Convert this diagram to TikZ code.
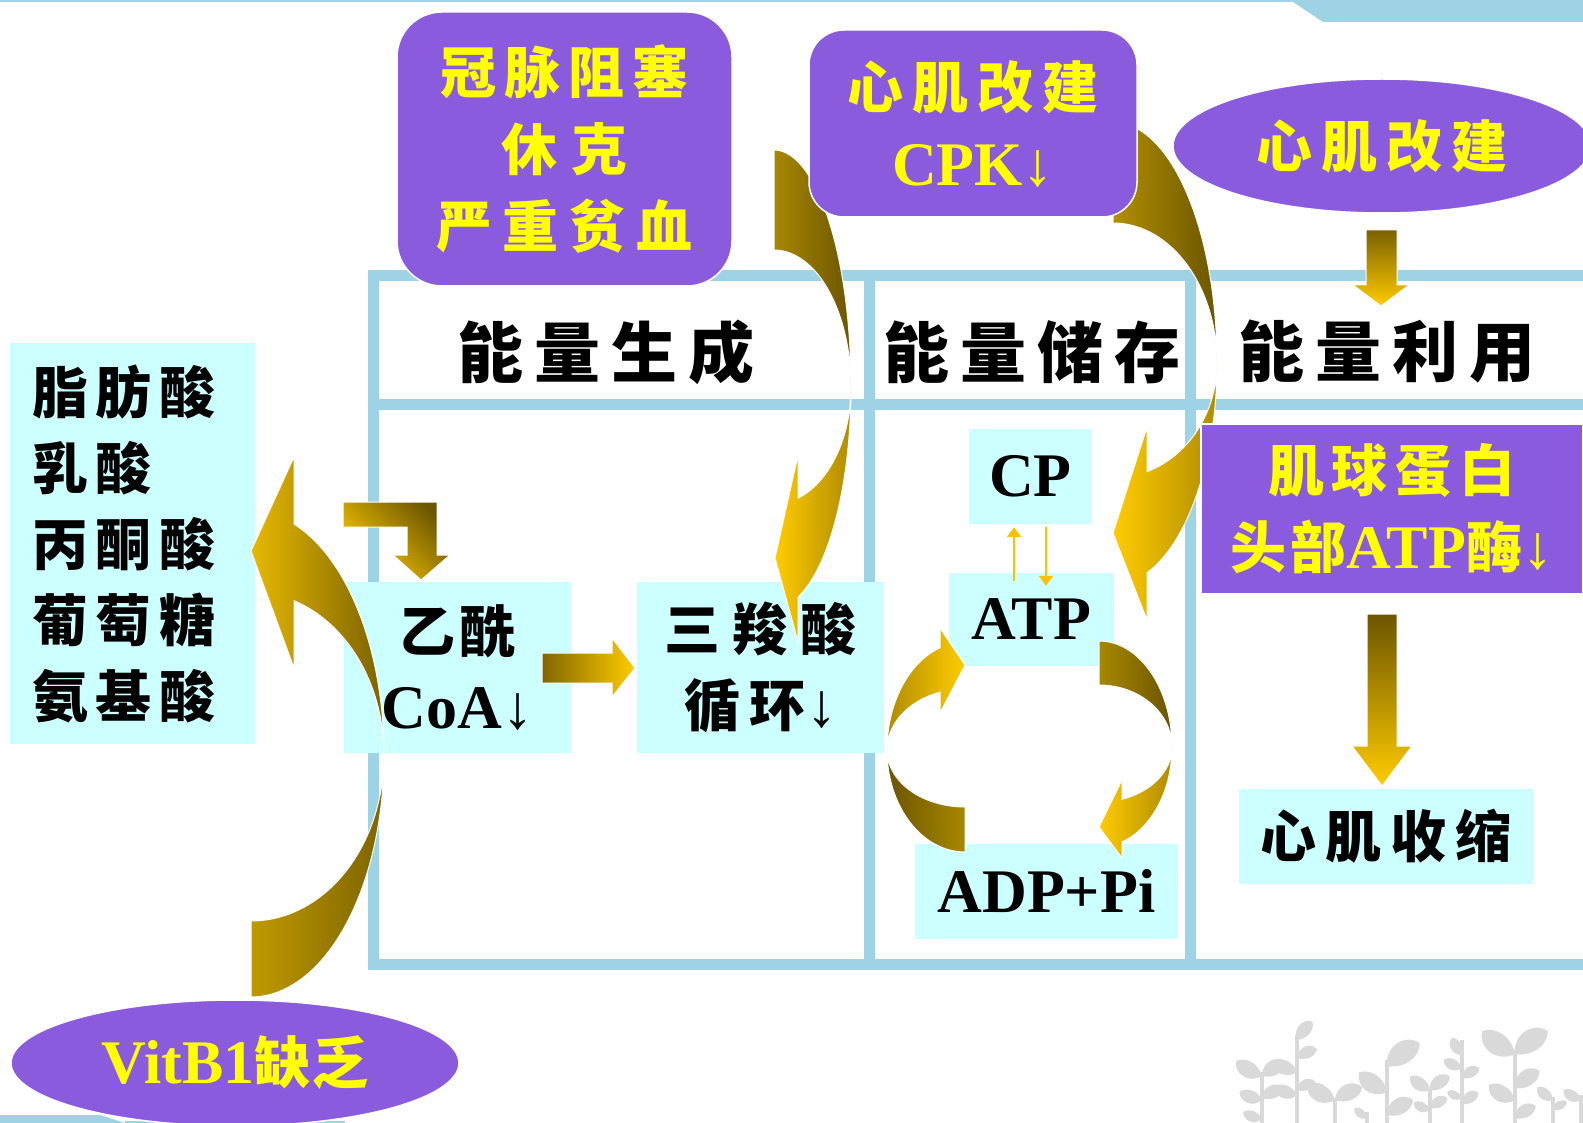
\documentclass[tikz,border=0pt]{standalone}
\usepackage{fontspec}
\newfontfamily\cjk{Noto Sans CJK SC}
\newfontfamily\tms{Liberation Serif}
\usetikzlibrary{arrows.meta,shapes.geometric}

\definecolor{violetfill}{RGB}{139,91,222}
\definecolor{ylw}{RGB}{255,255,0}
\definecolor{cyanfill}{RGB}{204,255,255}
\definecolor{gridblue}{RGB}{157,211,228}
\definecolor{gold}{RGB}{255,204,0}
\definecolor{goldmid}{RGB}{176,140,0}
\definecolor{goldback}{RGB}{168,136,0}
\definecolor{golddark}{RGB}{107,85,0}
\definecolor{tinyorange}{RGB}{255,192,0}
\definecolor{leafgrey}{RGB}{217,217,217}

\newcommand\gap[1]{\hspace{#1pt}}
\newcommand\hdrfont{\fontsize{66}{72}\selectfont\cjk\bfseries}
\newcommand\blkfont{\fontsize{56}{76}\selectfont\cjk\bfseries}
\newcommand\ylwfont{\fontsize{56}{77}\selectfont\cjk\bfseries}
\newcommand\lat[1]{{\fontsize{62}{76}\selectfont\tms\bfseries #1}}
\newcommand\dn{{\tms\mdseries ↓}}
% a grey leaf: base x, base y, direction, length
\newcommand\leaf[4]{\fill[leafgrey, shift={(#1,#2)}, rotate=#3]
  (0,0) .. controls ({0.25*#4},{-0.45*#4}) and ({0.85*#4},{-0.4*#4}) .. (#4,0)
        .. controls ({0.8*#4},{0.3*#4}) and ({0.3*#4},{0.3*#4}) .. cycle;}

\tikzset{
  cyanbox/.style={fill=cyanfill, inner sep=0pt, text=black, font=\blkfont, align=center},
  violetbox/.style={fill=violetfill, draw=white, line width=1.5pt, inner sep=0pt,
    text=ylw, align=center, font=\ylwfont},
  hdr/.style={font=\hdrfont, text=black, inner sep=0pt},
  gridline/.style={draw=gridblue, line width=11pt},
  blockarrow/.style={draw=white, line width=1pt},
  tinyarrow/.style={draw=tinyorange, line width=2.5pt, -{Triangle[length=10pt,width=14pt]}},
  stem/.style={draw=leafgrey, line width=4pt},
}

\begin{document}
\begin{tikzpicture}[x=1pt,y=-1pt]
\useasboundingbox (0,0) rectangle (1583,1123);
\fill[white] (0,0) rectangle (1583,1123);

% page trim
\draw[gridblue, line width=2.5pt] (0,1) -- (1292,1);
\fill[gridblue] (1290,0) -- (1323,22) -- (1583,22) -- (1583,0) -- cycle;
\fill[gridblue] (0,1115) -- (100,1115) -- (125,1123) -- (0,1123) -- cycle;
\draw[gridblue, line width=2pt] (125,1122) -- (345,1122);

% table grid
\draw[gridline] (1590,276) -- (373,276) -- (373,964) -- (1590,964);
\draw[gridline] (373,404) -- (1590,404);
\draw[gridline] (869,276) -- (869,964);
\draw[gridline] (1190,276) -- (1190,964);

% column headers
\node[hdr] (hgen) at (606,352) {能\gap{11}量\gap{11}生\gap{11}成};
\node[hdr] (hsto) at (1032,352) {能\gap{11}量\gap{11}储\gap{11}存};
\node[hdr] (huse) at (1387,352) {能\gap{11}量\gap{11}利\gap{11}用};

% substrate and metabolite boxes
\node[cyanbox, minimum width=245pt, minimum height=401pt, text width=201pt, align=left]
  (fuel) at (132.5,543.5)
  {脂\gap{8}肪\gap{8}酸\\乳\gap{8}酸\\丙\gap{8}酮\gap{8}酸\\葡\gap{8}萄\gap{8}糖\\氨\gap{8}基\gap{8}酸};
\node[cyanbox, minimum width=227pt, minimum height=171pt] (acoa) at (457.5,667.5)
  {乙\gap{4}酰\\\lat{CoA\dn}};
\node[cyanbox, minimum width=247pt, minimum height=171pt] (tca) at (760.5,667.5)
  {三\gap{12}羧\gap{12}酸\\循\gap{10}环\lat{\dn}};
\node[cyanbox, minimum width=123pt, minimum height=95pt] (cp) at (1030.5,476.5) {\lat{CP}};
\node[cyanbox, minimum width=165pt, minimum height=93pt] (atp) at (1031.5,619.5) {\lat{ATP}};
\node[cyanbox, minimum width=263pt, minimum height=95pt] (adp) at (1046.5,891.5) {\lat{ADP+Pi}};
\node[cyanbox, minimum width=294pt, minimum height=95pt] (contract) at (1386,836.5)
  {心\gap{9}肌\gap{9}收\gap{9}缩};

% straight block arrows
\path[blockarrow, top color=golddark, bottom color=gold, shading angle=-45]
  (343,502) -- (437,502) -- (437,555) -- (450,555) -- (421,580) -- (393,555)
  -- (407,555) -- (407,527) -- (343,527) -- cycle;
\path[blockarrow, left color=golddark!85!gold, right color=gold]
  (542,653) -- (612,653) -- (612,638) -- (635,668) -- (612,697) -- (612,683) -- (542,683) -- cycle;
\path[blockarrow, top color=golddark!90!gold, bottom color=gold]
  (1366,230) -- (1397,230) -- (1397,285) -- (1409,285) -- (1381,306) -- (1353,285) -- (1366,285) -- cycle;
\path[blockarrow, top color=golddark, bottom color=gold]
  (1367,614) -- (1397,614) -- (1397,746) -- (1412,746) -- (1382,786) -- (1352,746) -- (1367,746) -- cycle;

% curved arrow: vitamin B1 deficiency back to the substrates
\path[blockarrow, left color=goldmid!80!gold, right color=golddark!70!goldback]
  (384,755) -- plot[domain=0:90, samples=40] ({251+133*cos(\x)},{755+242*sin(\x)})
  -- plot[domain=90:0, samples=40] ({251+133*cos(\x)},{755+166*sin(\x)}) -- cycle;
\path[blockarrow, left color=gold!70!goldmid, right color=golddark!75!goldback]
  (384,755) -- plot[domain=0:-71.1, samples=40] ({251+133*cos(\x)},{755+244*sin(\x)})
  -- (294,457) -- (251,551) -- (294,668)
  -- plot[domain=-71.1:0, samples=40] ({251+133*cos(\x)},{755+163*sin(\x)}) -- cycle;

% curved arrow: ischaemia into the citric acid cycle
\path[blockarrow, left color=goldback, right color=golddark]
  (851,387) -- plot[domain=0:-90, samples=40] ({774+77*cos(\x)},{387+237*sin(\x)})
  -- plot[domain=-90:0, samples=40] ({774+77*cos(\x)},{387+137*sin(\x)}) -- cycle;
\path[blockarrow, left color=gold, right color=goldmid]
  (851,387) -- plot[domain=0:71.8, samples=40] ({774+77*cos(\x)},{387+221*sin(\x)})
  -- (798,642) -- (775,558) -- (798,455)
  -- plot[domain=71.8:0, samples=40] ({774+77*cos(\x)},{387+117*sin(\x)}) -- cycle;

% curved arrow: remodelling, CPK, into ATP
\path[blockarrow, left color=goldback!90!gold, right color=golddark]
  (1217,363) -- plot[domain=0:-90, samples=40] ({1113+104*cos(\x)},{363+241*sin(\x)})
  -- plot[domain=-90:0, samples=40] ({1113+104*cos(\x)},{363+140*sin(\x)}) -- cycle;
\path[blockarrow, left color=gold, right color=goldmid]
  (1217,363) -- plot[domain=0:70.9, samples=40] ({1113+104*cos(\x)},{363+222*sin(\x)})
  -- (1147,620) -- (1113,533) -- (1147,427)
  -- plot[domain=70.9:0, samples=40] ({1113+104*cos(\x)},{363+115*sin(\x)}) -- cycle;

% ATP / ADP cycle
\path[blockarrow, left color=golddark, right color=goldback]
  (887,750) -- plot[domain=180:90, samples=40] ({965+78*cos(\x)},{750+102*sin(\x)})
  -- plot[domain=90:180, samples=40] ({965+78*cos(\x)},{750+57*sin(\x)}) -- cycle;
\path[blockarrow, left color=goldmid, right color=gold]
  (887,750) -- plot[domain=180:251.3, samples=40] ({965+78*cos(\x)},{750+108*sin(\x)})
  -- (940,628) -- (965,665) -- (940,713)
  -- plot[domain=251.3:180, samples=40] ({965+78*cos(\x)},{750+61*sin(\x)}) -- cycle;
\path[blockarrow, left color=goldback, right color=golddark]
  (1172,747) -- plot[domain=0:-90, samples=40] ({1099+73*cos(\x)},{747+106*sin(\x)})
  -- plot[domain=-90:0, samples=40] ({1099+73*cos(\x)},{747+62*sin(\x)}) -- cycle;
\path[blockarrow, left color=gold, right color=goldmid]
  (1172,747) -- plot[domain=0:71.6, samples=40] ({1099+73*cos(\x)},{747+100*sin(\x)})
  -- (1122,858) -- (1099,827) -- (1122,780)
  -- plot[domain=71.6:0, samples=40] ({1099+73*cos(\x)},{747+55*sin(\x)}) -- cycle;

% CP <-> ATP exchange
\draw[tinyarrow] ([xshift=-17.5pt,yshift=-8pt]atp.north) -- ([xshift=-16.5pt,yshift=-3pt]cp.south);
\draw[tinyarrow] ([xshift=15.5pt,yshift=-3pt]cp.south) -- ([xshift=14.5pt,yshift=-13pt]atp.north);

% causes and defects
\node[violetbox, rounded corners=45pt, minimum width=335pt, minimum height=274pt]
  (ischemia) at (564.5,149)
  {冠\gap{8}脉\gap{8}阻\gap{8}塞\\休\gap{15}克\\严\gap{11}重\gap{11}贫\gap{11}血};
\node[violetbox, rounded corners=35pt, minimum width=328pt, minimum height=187pt]
  (remodelA) at (973,123.5) {心\gap{9}肌\gap{9}改\gap{9}建\\\lat{CPK\dn}};
\node[violetbox, ellipse, minimum width=418pt, minimum height=134pt]
  (remodelB) at (1382,146) {心\gap{9}肌\gap{9}改\gap{9}建};
\node[violetbox, minimum width=382pt, minimum height=170pt] (myosin) at (1392,509)
  {肌\gap{8}球\gap{8}蛋\gap{8}白\\头\gap{4}部\lat{ATP}酶\lat{\dn}};
\node[violetbox, ellipse, minimum width=448pt, minimum height=126pt] (vitb) at (235,1063)
  {\lat{VitB1}缺\gap{2}乏};

% sprouts in the corner
\draw[stem] (1262,1072) -- (1262,1123);
\leaf{1262}{1076}{150}{30}\leaf{1262}{1076}{30}{28}\leaf{1262}{1100}{160}{24}
\leaf{1262}{1098}{25}{24}\leaf{1262}{1119}{160}{20}
\draw[stem] (1297,1035) -- (1297,1123);
\leaf{1297}{1040}{50}{24}\leaf{1297}{1058}{25}{22}\leaf{1297}{1072}{155}{26}
\leaf{1297}{1090}{25}{20}\leaf{1297}{1095}{160}{24}
\draw[stem] (1335,1098) -- (1335,1123);
\leaf{1335}{1100}{150}{32}\leaf{1335}{1100}{25}{30}
\draw[stem] (1367,1112) -- (1367,1123);
\leaf{1367}{1118}{140}{16}
\draw[stem] (1387,1060) -- (1387,1123);
\leaf{1387}{1066}{35}{40}\leaf{1387}{1092}{145}{34}\leaf{1387}{1115}{30}{30}
\draw[stem] (1430,1088) -- (1430,1123);
\leaf{1430}{1090}{145}{24}\leaf{1430}{1090}{35}{24}\leaf{1430}{1110}{155}{18}\leaf{1430}{1108}{30}{20}
\draw[stem] (1462,1040) -- (1462,1123);
\leaf{1462}{1055}{120}{20}\leaf{1462}{1068}{155}{20}\leaf{1462}{1078}{30}{20}
\leaf{1462}{1098}{155}{16}\leaf{1462}{1104}{35}{20}
\draw[stem] (1515,1050) -- (1515,1123);
\leaf{1515}{1054}{145}{40}\leaf{1515}{1054}{35}{40}\leaf{1515}{1088}{35}{30}
\leaf{1515}{1100}{150}{30}\leaf{1515}{1118}{30}{24}
\draw[stem] (1553,1097) -- (1553,1123);
\leaf{1553}{1100}{140}{20}\leaf{1553}{1110}{30}{16}
\draw[stem] (1581,1095) -- (1581,1123);
\leaf{1581}{1100}{150}{20}
\end{tikzpicture}
\end{document}
